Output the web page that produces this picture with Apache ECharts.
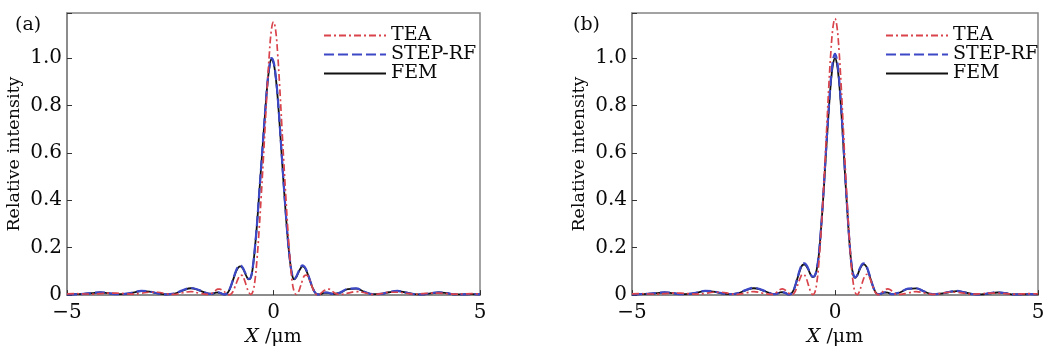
<!DOCTYPE html>
<html>
<head>
<meta charset="utf-8">
<script src="https://cdn.jsdelivr.net/npm/echarts@6/dist/echarts.min.js"></script>
<style>
  html, body { margin: 0; background: #fff; }
  #chart { width: 1051px; height: 352px; }
</style>
</head>
<body>
<div id="chart"></div>
<script>
// sample positions along X (um): coarse in the tails, fine around the main lobe
const xs = [
  -5.0, -4.8, -4.6, -4.4, -4.2, -4.0, -3.8, -3.6, -3.4, -3.2, -3.0, -2.8, -2.6, -2.4, -2.2, -2.0, -1.8, -1.6,
  -1.5, -1.45, -1.4, -1.35, -1.3, -1.25, -1.2, -1.15, -1.1, -1.05, -1.0, -0.95, -0.9, -0.85, -0.8, -0.75,
  -0.7, -0.65, -0.6, -0.55, -0.5, -0.45, -0.4, -0.35, -0.3, -0.25, -0.2, -0.15, -0.1, -0.05, 0,
  0.05, 0.1, 0.15, 0.2, 0.25, 0.3, 0.35, 0.4, 0.45, 0.5, 0.55, 0.6, 0.65, 0.7, 0.75, 0.8, 0.85, 0.9,
  0.95, 1.0, 1.05, 1.1, 1.15, 1.2, 1.25, 1.3, 1.35, 1.4, 1.45, 1.5,
  1.6, 1.8, 2.0, 2.2, 2.4, 2.6, 2.8, 3.0, 3.2, 3.4, 3.6, 3.8, 4.0, 4.2, 4.4, 4.6, 4.8, 5.0
];

// panel (a)
const teaA = [
  0.005, 0.006, 0.005, 0.004, 0.006, 0.008, 0.008, 0.006, 0.004, 0.008, 0.012, 0.012, 0.006, 0.003, 0.01, 0.015, 0.008, 0.003,
  0.007, 0.013, 0.02, 0.025, 0.025, 0.022, 0.016, 0.008, 0.002, 0.002, 0.01, 0.028, 0.05, 0.072, 0.084, 0.082,
  0.062, 0.035, 0.012, 0.003, 0.015, 0.06, 0.15, 0.27, 0.41, 0.56, 0.72, 0.88, 1.02, 1.12, 1.153,
  1.12, 1.02, 0.88, 0.72, 0.56, 0.41, 0.27, 0.15, 0.06, 0.015, 0.003, 0.012, 0.035, 0.062, 0.082, 0.084, 0.072, 0.05,
  0.028, 0.01, 0.002, 0.002, 0.008, 0.016, 0.022, 0.025, 0.025, 0.02, 0.013, 0.007,
  0.003, 0.008, 0.015, 0.01, 0.003, 0.006, 0.012, 0.012, 0.008, 0.004, 0.006, 0.008, 0.008, 0.006, 0.004, 0.005, 0.006, 0.005
];
const stepA = [
  0.003, 0.003, 0.005, 0.009, 0.012, 0.008, 0.004, 0.005, 0.011, 0.018, 0.015, 0.007, 0.003, 0.007, 0.02, 0.03, 0.021, 0.007,
  0.005, 0.008, 0.011, 0.012, 0.01, 0.006, 0.003, 0.004, 0.012, 0.03, 0.055, 0.082, 0.106, 0.121, 0.125, 0.117,
  0.1, 0.08, 0.068, 0.075, 0.12, 0.2, 0.3, 0.42, 0.54, 0.66, 0.78, 0.89, 0.965, 1.0, 0.985,
  0.93, 0.84, 0.72, 0.59, 0.46, 0.34, 0.23, 0.145, 0.088, 0.068, 0.078, 0.097, 0.115, 0.125, 0.12, 0.104, 0.08, 0.054,
  0.03, 0.012, 0.004, 0.003, 0.006, 0.009, 0.011, 0.011, 0.009, 0.006, 0.005, 0.006,
  0.01, 0.026, 0.028, 0.014, 0.004, 0.005, 0.013, 0.018, 0.011, 0.004, 0.003, 0.008, 0.012, 0.008, 0.003, 0.003, 0.004, 0.003
];
const femA = [
  0.003, 0.004, 0.005, 0.008, 0.011, 0.008, 0.004, 0.005, 0.01, 0.017, 0.015, 0.007, 0.003, 0.006, 0.019, 0.029, 0.02, 0.007,
  0.005, 0.007, 0.01, 0.011, 0.009, 0.006, 0.003, 0.004, 0.012, 0.029, 0.053, 0.079, 0.102, 0.117, 0.121, 0.114,
  0.097, 0.078, 0.066, 0.073, 0.118, 0.198, 0.298, 0.418, 0.538, 0.657, 0.776, 0.886, 0.96, 0.995, 0.98,
  0.925, 0.835, 0.716, 0.586, 0.457, 0.337, 0.228, 0.143, 0.086, 0.066, 0.075, 0.094, 0.111, 0.121, 0.117, 0.101, 0.078, 0.053,
  0.029, 0.012, 0.004, 0.003, 0.005, 0.008, 0.01, 0.01, 0.008, 0.006, 0.005, 0.006,
  0.009, 0.025, 0.027, 0.014, 0.004, 0.005, 0.012, 0.017, 0.011, 0.004, 0.003, 0.007, 0.011, 0.008, 0.003, 0.003, 0.004, 0.003
];

// panel (b)
const teaB = [
  0.005, 0.006, 0.005, 0.004, 0.006, 0.008, 0.008, 0.006, 0.004, 0.007, 0.012, 0.012, 0.007, 0.003, 0.009, 0.015, 0.009, 0.003,
  0.004, 0.01, 0.018, 0.024, 0.026, 0.024, 0.018, 0.01, 0.003, 0.002, 0.01, 0.028, 0.052, 0.075, 0.088, 0.085,
  0.067, 0.04, 0.015, 0.002, 0.01, 0.05, 0.13, 0.25, 0.39, 0.55, 0.72, 0.89, 1.03, 1.13, 1.167,
  1.13, 1.03, 0.89, 0.72, 0.55, 0.39, 0.25, 0.13, 0.05, 0.01, 0.002, 0.015, 0.04, 0.067, 0.085, 0.088, 0.075, 0.052,
  0.028, 0.01, 0.002, 0.003, 0.01, 0.018, 0.024, 0.026, 0.024, 0.018, 0.01, 0.004,
  0.003, 0.009, 0.015, 0.009, 0.003, 0.007, 0.012, 0.012, 0.007, 0.004, 0.006, 0.008, 0.008, 0.006, 0.004, 0.005, 0.006, 0.005
];
const stepB = [
  0.003, 0.004, 0.006, 0.009, 0.012, 0.009, 0.004, 0.005, 0.011, 0.018, 0.016, 0.008, 0.004, 0.008, 0.021, 0.031, 0.022, 0.008,
  0.004, 0.005, 0.008, 0.012, 0.013, 0.011, 0.007, 0.003, 0.004, 0.012, 0.03, 0.058, 0.088, 0.115, 0.132, 0.134,
  0.125, 0.108, 0.088, 0.078, 0.082, 0.11, 0.17, 0.27, 0.39, 0.53, 0.67, 0.8, 0.915, 0.99, 1.018,
  0.99, 0.915, 0.8, 0.66, 0.51, 0.37, 0.24, 0.14, 0.088, 0.075, 0.085, 0.108, 0.126, 0.134, 0.13, 0.112, 0.085, 0.056,
  0.03, 0.012, 0.004, 0.004, 0.008, 0.011, 0.012, 0.01, 0.007, 0.004, 0.004, 0.007,
  0.012, 0.027, 0.029, 0.015, 0.004, 0.006, 0.013, 0.018, 0.011, 0.004, 0.003, 0.008, 0.012, 0.008, 0.003, 0.003, 0.004, 0.003
];
const femB = [
  0.003, 0.004, 0.005, 0.008, 0.011, 0.008, 0.004, 0.005, 0.01, 0.017, 0.015, 0.007, 0.004, 0.007, 0.02, 0.029, 0.021, 0.008,
  0.004, 0.005, 0.008, 0.011, 0.012, 0.01, 0.007, 0.003, 0.004, 0.012, 0.029, 0.056, 0.085, 0.111, 0.127, 0.129,
  0.121, 0.105, 0.086, 0.076, 0.08, 0.108, 0.167, 0.265, 0.383, 0.52, 0.658, 0.787, 0.9, 0.973, 1.0,
  0.973, 0.9, 0.787, 0.648, 0.5, 0.363, 0.236, 0.138, 0.086, 0.073, 0.083, 0.105, 0.122, 0.13, 0.126, 0.109, 0.083, 0.055,
  0.03, 0.012, 0.004, 0.004, 0.007, 0.01, 0.011, 0.01, 0.007, 0.004, 0.004, 0.007,
  0.011, 0.026, 0.028, 0.015, 0.004, 0.006, 0.012, 0.017, 0.011, 0.004, 0.003, 0.007, 0.011, 0.008, 0.003, 0.003, 0.004, 0.003
];

const xTicks = [-5, 0, 5];
const yTicks = [0, 0.2, 0.4, 0.6, 0.8, 1.0];
const legendNames = ['TEA', 'STEP-RF', 'FEM'];

const FONT = 'DejaVu Serif';
const RED = '#d9434b';
const BLUE = '#3c48c6';
const FRAME = '#858585';
const INK = '#0a0a0a';

const pairs = (ys) => xs.map((x, i) => [x, ys[i]]);

function xAxisFor(gridIndex) {
  return {
    type: 'value', gridIndex, min: -5, max: 5, interval: 5,
    name: '{i|X} /μm', nameLocation: 'middle', nameGap: 29,
    nameTextStyle: {
      fontFamily: FONT, fontSize: 19, color: INK,
      rich: { i: { fontFamily: FONT, fontSize: 19, fontStyle: 'italic', color: INK } }
    },
    axisLine: { show: true, onZero: false, lineStyle: { color: FRAME, width: 1.5 } },
    axisTick: { show: true, inside: true, length: 5, lineStyle: { color: '#333' } },
    axisLabel: {
      fontFamily: FONT, fontSize: 20, color: INK, margin: 8,
      formatter: (v) => xTicks.includes(v) ? (v < 0 ? '\u2212' + Math.abs(v) : String(v)) : ''
    },
    splitLine: { show: false }
  };
}

function yAxisFor(gridIndex) {
  return {
    type: 'value', gridIndex, min: 0, max: 1.19, interval: 0.2,
    name: 'Relative intensity', nameLocation: 'middle', nameGap: 44,
    nameTextStyle: { fontFamily: FONT, fontSize: 17.5, color: INK },
    axisLine: { show: true, onZero: false, lineStyle: { color: FRAME, width: 1.5 } },
    axisTick: { show: true, inside: true, length: 5, lineStyle: { color: '#333' } },
    axisLabel: {
      fontFamily: FONT, fontSize: 20, color: INK, margin: 5,
      formatter: (v) => {
        const t = yTicks.find((k) => Math.abs(k - v) < 1e-6);
        if (t === undefined) return '';
        return t === 0 ? '0' : t.toFixed(1);
      }
    },
    splitLine: { show: false }
  };
}

function seriesFor(idx, tea, step, fem) {
  return [
    {
      name: 'FEM', type: 'line', xAxisIndex: idx, yAxisIndex: idx, data: pairs(fem),
      smooth: 0.4, symbol: 'none', z: 2,
      lineStyle: { color: '#111', width: 1.8, type: 'solid' }, itemStyle: { color: '#111' }
    },
    {
      name: 'STEP-RF', type: 'line', xAxisIndex: idx, yAxisIndex: idx, data: pairs(step),
      smooth: 0.4, symbol: 'none', z: 3,
      lineStyle: { color: BLUE, width: 2.2, type: [10, 4] }, itemStyle: { color: BLUE }
    },
    {
      name: 'TEA', type: 'line', xAxisIndex: idx, yAxisIndex: idx, data: pairs(tea),
      smooth: 0.4, symbol: 'none', z: 4,
      lineStyle: { color: RED, width: 1.7, type: [7, 3, 2, 3] }, itemStyle: { color: RED }
    }
  ];
}

function legendFor(left) {
  return {
    left, top: 21, orient: 'vertical', data: legendNames,
    itemWidth: 62, itemHeight: 10, itemGap: 0,
    itemStyle: { opacity: 0 },
    textStyle: { fontFamily: FONT, fontSize: 19, color: INK, lineHeight: 18 },
    selectedMode: false
  };
}

const chart = echarts.init(document.getElementById('chart'), null, { renderer: 'canvas' });
chart.setOption({
  animation: false,
  backgroundColor: '#fff',
  title: [
    { text: '(a)', left: 10, top: 11, textStyle: { fontFamily: FONT, fontSize: 19, fontWeight: 'normal', color: INK } },
    { text: '(b)', left: 568, top: 11, textStyle: { fontFamily: FONT, fontSize: 19, fontWeight: 'normal', color: INK } }
  ],
  grid: [
    { left: 67, top: 13, width: 413, height: 290, show: true, borderColor: FRAME, borderWidth: 1.5 },
    { left: 632, top: 13, width: 406, height: 290, show: true, borderColor: FRAME, borderWidth: 1.5 }
  ],
  legend: [legendFor(318), legendFor(880)],
  xAxis: [xAxisFor(0), xAxisFor(1)],
  yAxis: [yAxisFor(0), yAxisFor(1)],
  series: [...seriesFor(0, teaA, stepA, femA), ...seriesFor(1, teaB, stepB, femB)]
});
</script>
</body>
</html>
